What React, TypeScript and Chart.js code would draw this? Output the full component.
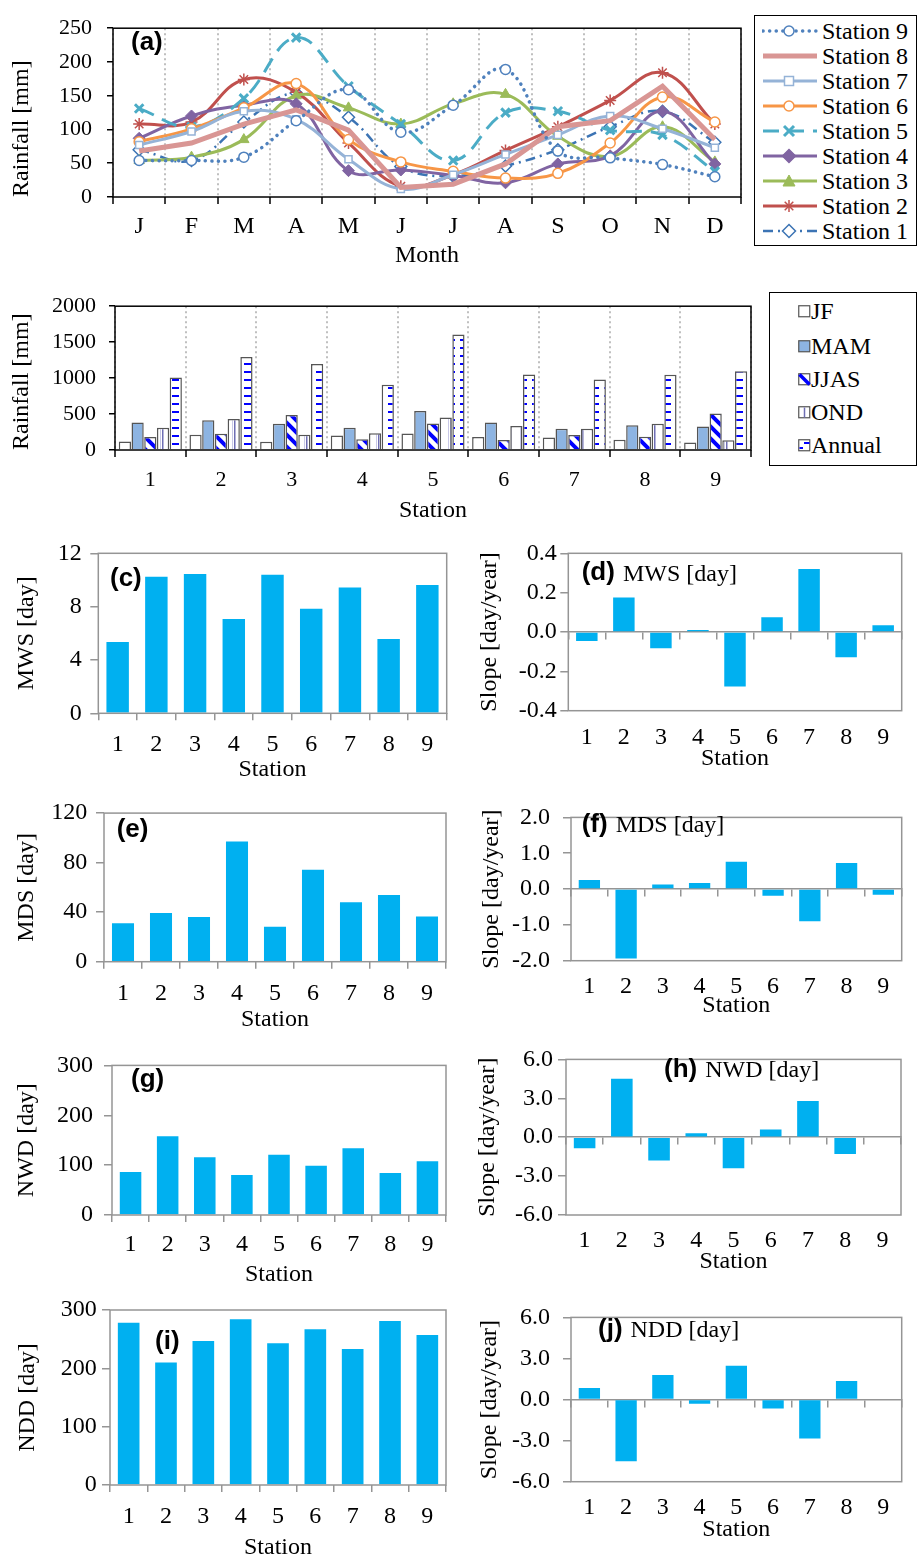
import React, { useEffect, useRef } from 'react';
import { Chart, registerables } from 'chart.js';

Chart.register(...registerables);

const SERIF = '"Liberation Serif", "Times New Roman", Times, serif';
const SANS = '"Liberation Sans", Arial, Helvetica, sans-serif';
Chart.defaults.font.family = SERIF;
Chart.defaults.color = '#000';

// ---------------- data ----------------
const months = ['J', 'F', 'M', 'A', 'M', 'J', 'J', 'A', 'S', 'O', 'N', 'D'];
const rainStation9 = [54, 54, 59, 113, 159, 96, 136, 189, 68, 58, 48, 30];
const rainStation8 = [68, 80, 108, 129, 99, 14, 19, 49, 104, 113, 164, 85];
const rainStation7 = [77, 97, 127, 115, 56, 12, 33, 63, 92, 120, 101, 73];
const rainStation6 = [82, 101, 132, 168, 85, 52, 38, 28, 35, 80, 148, 111];
const rainStation5 = [131, 104, 146, 236, 164, 108, 54, 125, 127, 99, 92, 38];
const rainStation4 = [87, 120, 136, 138, 39, 40, 32, 21, 49, 61, 127, 49];
const rainStation3 = [54, 59, 85, 150, 132, 108, 138, 152, 90, 60, 104, 52];
const rainStation2 = [108, 111, 174, 155, 80, 16, 33, 69, 104, 143, 184, 108];
const rainStation1 = [70, 54, 111, 154, 118, 45, 31, 46, 70, 104, 127, 81];
const rainTicks = [0, 50, 100, 150, 200, 250];

const stationLabels = ['1', '2', '3', '4', '5', '6', '7', '8', '9'];
const seasonNames = ['JF', 'MAM', 'JJAS', 'OND', 'Annual'];
const rainJF = [119, 212, 114, 203, 229, 182, 174, 144, 106];
const rainMAM = [381, 415, 364, 309, 542, 381, 297, 343, 326];
const rainJJAS = [182, 225, 487, 148, 369, 140, 208, 186, 508];
const rainOND = [309, 432, 212, 233, 453, 335, 297, 364, 136];
const rainAnnual = [1008, 1292, 1195, 907, 1606, 1051, 979, 1047, 1097];

const mws = [5.35, 10.25, 10.45, 7.08, 10.4, 7.85, 9.43, 5.58, 9.63];
const mwsSlope = [-0.046, 0.175, -0.082, 0.01, -0.277, 0.075, 0.32, -0.128, 0.034];
const mds = [31, 39.4, 36.1, 97.1, 28.2, 74.2, 48, 53.9, 36.4];
const mdsSlope = [0.25, -1.94, 0.13, 0.17, 0.76, -0.19, -0.9, 0.73, -0.16];
const nwd = [86, 158, 116, 80, 121, 99, 134, 84, 108];
const nwdSlope = [-0.85, 4.5, -1.8, 0.3, -2.4, 0.6, 2.8, -1.3, 0.05];
const ndd = [278, 210, 247, 284, 243, 267, 233, 281, 257];
const nddSlope = [0.85, -4.5, 1.8, -0.3, 2.47, -0.65, -2.84, 1.36, -0.05];

// ---------------- styles ----------------
const GRAY = '#959595';
const BAR_BLUE = '#00B0F0';
const LH = 24 * 1.2;

const lineSeries = [
  { name: 'Station 9', data: rainStation9, color: '#4F81BD', width: 3.5, dash: [0.1, 6.5], cap: 'round', point: 'circle', radius: 5, fill: '#FFFFFF', pbw: 1.5, tension: 0.4 },
  { name: 'Station 8', data: rainStation8, color: '#D99694', width: 5, dash: [], cap: 'butt', point: 'none', radius: 0, fill: '#D99694', pbw: 0, tension: 0 },
  { name: 'Station 7', data: rainStation7, color: '#95B3D7', width: 3, dash: [], cap: 'butt', point: 'rect', radius: 5, fill: '#FFFFFF', pbw: 1.5, tension: 0.4 },
  { name: 'Station 6', data: rainStation6, color: '#F79646', width: 3, dash: [], cap: 'butt', point: 'circle', radius: 5, fill: '#FFFFFF', pbw: 1.5, tension: 0.4 },
  { name: 'Station 5', data: rainStation5, color: '#4BACC6', width: 3, dash: [16, 9], cap: 'butt', point: 'crossRot', radius: 6, fill: '#4BACC6', pbw: 3, tension: 0.4 },
  { name: 'Station 4', data: rainStation4, color: '#8064A2', width: 3, dash: [], cap: 'butt', point: 'rectRot', radius: 6, fill: '#8064A2', pbw: 1, tension: 0.4 },
  { name: 'Station 3', data: rainStation3, color: '#9BBB59', width: 3, dash: [], cap: 'butt', point: 'triangle', radius: 6, fill: '#9BBB59', pbw: 1, tension: 0.4 },
  { name: 'Station 2', data: rainStation2, color: '#C0504D', width: 3, dash: [], cap: 'butt', point: 'star', radius: 6, fill: '#C0504D', pbw: 1.5, tension: 0.4 },
  { name: 'Station 1', data: rainStation1, color: '#3C74B4', width: 2.5, dash: [10, 5, 2, 5], cap: 'butt', point: 'rectRot', radius: 6, fill: '#FFFFFF', pbw: 1.5, tension: 0.4 },
];

// ---------------- plugins ----------------
const framePlugin = (color: string, width: number) => ({
  id: 'frame',
  afterDraw(chart: any) {
    const { ctx, chartArea: a } = chart;
    ctx.save();
    ctx.strokeStyle = color;
    ctx.lineWidth = width;
    ctx.strokeRect(a.left, a.top, a.right - a.left, a.bottom - a.top);
    ctx.restore();
  },
});

const tagPlugin = (tag: string, text: string, x: number, y: number) => ({
  id: 'tag',
  afterDraw(chart: any) {
    const ctx = chart.ctx;
    ctx.save();
    ctx.fillStyle = '#000';
    ctx.textBaseline = 'middle';
    ctx.textAlign = 'left';
    ctx.font = `bold 26px ${SANS}`;
    ctx.fillText(tag, x, y);
    if (text) {
      const w = ctx.measureText(tag).width;
      ctx.font = `24px ${SERIF}`;
      ctx.fillText(text, x + w + 8, y + 1);
    }
    ctx.restore();
  },
});

// ---------------- patterns ----------------
function makePattern(kind: string): any {
  const c = document.createElement('canvas');
  const ctx = c.getContext('2d') as CanvasRenderingContext2D;
  if (kind === 'diag') {
    c.width = 12; c.height = 12;
    ctx.fillStyle = '#fff'; ctx.fillRect(0, 0, 12, 12);
    ctx.strokeStyle = '#0000FF'; ctx.lineWidth = 4;
    ctx.beginPath();
    ctx.moveTo(-3, -3); ctx.lineTo(15, 15);
    ctx.moveTo(-3, 9); ctx.lineTo(3, 15);
    ctx.moveTo(9, -3); ctx.lineTo(15, 3);
    ctx.stroke();
  } else if (kind === 'vert') {
    c.width = 12; c.height = 4;
    ctx.fillStyle = '#fff'; ctx.fillRect(0, 0, 12, 4);
    ctx.fillStyle = '#6E6EB4'; ctx.fillRect(6, 0, 1.5, 4);
    ctx.fillStyle = '#C8C8E6'; ctx.fillRect(4, 0, 1, 4);
  } else {
    c.width = 12; c.height = 8;
    ctx.fillStyle = '#fff'; ctx.fillRect(0, 0, 12, 8);
    ctx.fillStyle = '#0000FF'; ctx.fillRect(4, 3, 7, 2);
  }
  return ctx.createPattern(c, 'repeat');
}

// ---------------- configs ----------------
function lineConfig() {
  const W = 750, H = 275;
  const area = { left: 113, right: 746, top: 19, bottom: 197 };
  return {
    type: 'line',
    data: {
      labels: months,
      datasets: lineSeries.map((s) => ({
        label: s.name,
        data: s.data,
        borderColor: s.color,
        borderWidth: s.width,
        borderDash: s.dash,
        borderCapStyle: s.cap,
        tension: s.tension,
        fill: false,
        pointStyle: s.point === 'none' ? false : s.point,
        pointRadius: s.radius,
        pointBackgroundColor: s.fill,
        pointBorderColor: s.color,
        pointBorderWidth: s.pbw,
      })),
    },
    options: {
      responsive: false,
      animation: false,
      events: [],
      layout: { padding: { top: area.top, right: W - area.right, left: 0, bottom: 0 } },
      plugins: { legend: { display: false }, tooltip: { enabled: false } },
      scales: {
        x: {
          type: 'category',
          offset: true,
          grid: { display: true, offset: true, drawOnChartArea: true, drawTicks: true, tickLength: 7, color: '#BFBFBF', lineWidth: 2, tickColor: '#000', tickWidth: 1.5 },
          border: { display: false, dash: [2, 3] },
          ticks: { autoSkip: false, maxRotation: 0, font: { size: 24 }, color: '#000', padding: 227 - area.bottom - 7 - LH / 2 },
          title: { display: true, text: 'Month', font: { size: 24 }, color: '#000', padding: { top: 0, bottom: H - 256 - LH / 2 } },
          afterFit: (s: any) => { s.height = H - area.bottom; },
        },
        y: {
          min: rainTicks[0],
          max: rainTicks[rainTicks.length - 1],
          ticks: { stepSize: rainTicks[1] - rainTicks[0], font: { size: 22 }, color: '#000', padding: area.left - 6 - 92, callback: (v: any) => String(v) },
          grid: { display: true, drawOnChartArea: false, drawTicks: true, tickLength: 6, color: '#000', lineWidth: 1.5 },
          border: { display: false },
          title: { display: true, text: 'Rainfall [mm]', align: 'start', font: { size: 24 }, color: '#000', padding: { top: 22 - LH / 2, bottom: 0 } },
          afterFit: (s: any) => { s.width = area.left; },
        },
      },
    },
    plugins: [framePlugin('#000', 1.5), tagPlugin('(a)', '', 131, 43)],
  };
}

function seasonConfig() {
  const W = 760, H = 250, TOP = 280;
  const area = { left: 115, right: 751, top: 292.5, bottom: 450 };
  const fills = ['#FFFFFF', '#8DB4E2', makePattern('diag'), makePattern('vert'), makePattern('dash')];
  const values = [rainJF, rainMAM, rainJJAS, rainOND, rainAnnual];
  return {
    type: 'bar',
    data: {
      labels: stationLabels,
      datasets: seasonNames.map((n, i) => ({
        label: n,
        data: values[i],
        backgroundColor: fills[i],
        borderColor: '#555555',
        borderWidth: 1.5,
        borderSkipped: 'bottom',
        categoryPercentage: 0.9,
        barPercentage: 0.96,
      })),
    },
    options: {
      responsive: false,
      animation: false,
      events: [],
      layout: { padding: { top: area.top - TOP, right: W - area.right, left: 0, bottom: 0 } },
      plugins: { legend: { display: false }, tooltip: { enabled: false } },
      scales: {
        x: {
          type: 'category',
          offset: true,
          grid: { display: true, offset: true, drawOnChartArea: true, drawTicks: true, tickLength: 7, color: '#BFBFBF', lineWidth: 2, tickColor: '#000', tickWidth: 1.5 },
          border: { display: false, dash: [2, 3] },
          ticks: { autoSkip: false, maxRotation: 0, font: { size: 22 }, color: '#000', padding: 480 - area.bottom - 7 - 13.2 },
          title: { display: true, text: 'Station', font: { size: 24 }, color: '#000', padding: { top: 0, bottom: TOP + H - 511 - LH / 2 } },
          afterFit: (s: any) => { s.height = TOP + H - area.bottom; },
        },
        y: {
          min: 0,
          max: 2000,
          ticks: { stepSize: 500, font: { size: 22 }, color: '#000', padding: area.left - 6 - 96, callback: (v: any) => String(v) },
          grid: { display: true, drawOnChartArea: false, drawTicks: true, tickLength: 6, color: '#000', lineWidth: 1.5 },
          border: { display: false },
          title: { display: true, text: 'Rainfall [mm]', align: 'start', font: { size: 24 }, color: '#000', padding: { top: 22 - LH / 2, bottom: 0 } },
          afterFit: (s: any) => { s.width = area.left; },
        },
      },
    },
    plugins: [framePlugin('#000', 1.5), tagPlugin('(b)', '', 131, 315)],
  };
}

interface BarPanel {
  left: number; top: number; width: number; height: number;
  area: { left: number; right: number; top: number; bottom: number };
  yTickRight: number; yTitleX: number; xLabelY: number; xTitleY: number;
  values: number[]; min: number; max: number; step: number; decimals: number;
  yTitle: string; slope: boolean; tag: string; tagText: string; tagX: number; tagY: number;
}

function barPanelConfig(p: BarPanel) {
  const yTick = 8;
  const xTick = p.slope ? 0 : 7;
  const cTop = p.area.top - p.top;
  const cRight = p.left + p.width - p.area.right;
  const yWidth = p.area.left - p.left;
  const xHeight = p.top + p.height - p.area.bottom;
  const fmt = (v: any) => {
    let n = Number(v);
    if (Math.abs(n) < 1e-9) n = 0;
    return n.toFixed(p.decimals);
  };
  const scales: any = {
    x: {
      type: 'category',
      position: 'bottom',
      offset: true,
      grid: p.slope
        ? { display: false }
        : { display: true, offset: true, drawOnChartArea: false, drawTicks: true, tickLength: xTick, color: GRAY, lineWidth: 1.5 },
      border: { display: false },
      ticks: { autoSkip: false, maxRotation: 0, font: { size: 24 }, color: '#000', padding: p.xLabelY - p.area.bottom - xTick - LH / 2 },
      title: { display: true, text: 'Station', font: { size: 24 }, color: '#000', padding: { top: 0, bottom: Math.max(0, p.top + p.height - p.xTitleY - LH / 2) } },
      afterFit: (s: any) => { s.height = xHeight; },
    },
    y: {
      min: p.min,
      max: p.max,
      ticks: { stepSize: p.step, font: { size: 24 }, color: '#000', padding: p.area.left - yTick - p.yTickRight, callback: fmt },
      grid: { display: true, drawOnChartArea: false, drawTicks: true, tickLength: yTick, color: GRAY, lineWidth: 1.5 },
      border: { display: false },
      title: { display: true, text: p.yTitle, font: { size: 24 }, color: '#000', padding: { top: p.yTitleX - p.left - LH / 2, bottom: 0 } },
      afterFit: (s: any) => { s.width = yWidth; },
    },
  };
  if (p.slope) {
    scales.x2 = {
      type: 'category',
      position: { y: 0 },
      offset: true,
      grid: { display: true, offset: true, drawOnChartArea: false, drawTicks: true, tickLength: 7, color: GRAY, lineWidth: 1.5 },
      border: { display: true, color: GRAY, width: 1.5 },
      ticks: { display: false },
      title: { display: false },
      afterFit: (s: any) => { s.height = 0; },
    };
  }
  return {
    type: 'bar',
    data: {
      labels: stationLabels,
      datasets: [{
        data: p.values,
        xAxisID: 'x',
        yAxisID: 'y',
        backgroundColor: BAR_BLUE,
        borderWidth: 0,
        categoryPercentage: 1,
        barPercentage: 0.58,
      }],
    },
    options: {
      responsive: false,
      animation: false,
      events: [],
      layout: { padding: { top: cTop, right: cRight, left: 0, bottom: 0 } },
      plugins: { legend: { display: false }, tooltip: { enabled: false } },
      scales,
    },
    plugins: [framePlugin(GRAY, 1.5), tagPlugin(p.tag, p.tagText, p.tagX - p.left, p.tagY - p.top)],
  };
}

const panels: BarPanel[] = [
  { left: 0, top: 530, width: 460, height: 260, area: { left: 98.3, right: 446.7, top: 553.3, bottom: 713.3 }, yTickRight: 81.7, yTitleX: 26.7, xLabelY: 745, xTitleY: 769.3,
    values: mws, min: 0, max: 12, step: 4, decimals: 0, yTitle: 'MWS [day]', slope: false, tag: '(c)', tagText: '', tagX: 110, tagY: 579 },
  { left: 460, top: 530, width: 460, height: 260, area: { left: 568.3, right: 901.7, top: 553.3, bottom: 710.7 }, yTickRight: 556.7, yTitleX: 490, xLabelY: 730, xTitleY: 758.3,
    values: mwsSlope, min: -0.4, max: 0.4, step: 0.2, decimals: 1, yTitle: 'Slope [day/year]', slope: true, tag: '(d)', tagText: 'MWS [day]', tagX: 581.7, tagY: 573.3 },
  { left: 0, top: 790, width: 460, height: 250, area: { left: 104, right: 446, top: 804.3, bottom: 961.7 }, yTickRight: 87.3, yTitleX: 26.7, xLabelY: 994, xTitleY: 1019.3,
    values: mds, min: 0, max: 120, step: 40, decimals: 0, yTitle: 'MDS [day]', slope: false, tag: '(e)', tagText: '', tagX: 116.7, tagY: 830 },
  { left: 460, top: 790, width: 460, height: 250, area: { left: 571, right: 901.7, top: 805, bottom: 960.7 }, yTickRight: 550, yTitleX: 491.7, xLabelY: 978.3, xTitleY: 1006,
    values: mdsSlope, min: -2, max: 2, step: 1, decimals: 1, yTitle: 'Slope [day/year]', slope: true, tag: '(f)', tagText: 'MDS [day]', tagX: 581.7, tagY: 825 },
  { left: 0, top: 1040, width: 460, height: 250, area: { left: 112, right: 446, top: 1054, bottom: 1215 }, yTickRight: 93, yTitleX: 27, xLabelY: 1245, xTitleY: 1275,
    values: nwd, min: 0, max: 300, step: 100, decimals: 0, yTitle: 'NWD [day]', slope: false, tag: '(g)', tagText: '', tagX: 131, tagY: 1080 },
  { left: 460, top: 1040, width: 460, height: 250, area: { left: 566, right: 901, top: 1054, bottom: 1215 }, yTickRight: 553, yTitleX: 488, xLabelY: 1233, xTitleY: 1262,
    values: nwdSlope, min: -6, max: 6, step: 3, decimals: 1, yTitle: 'Slope [day/year]', slope: true, tag: '(h)', tagText: 'NWD [day]', tagX: 664, tagY: 1070 },
  { left: 0, top: 1290, width: 460, height: 273, area: { left: 110, right: 446, top: 1310, bottom: 1485 }, yTickRight: 96.7, yTitleX: 27.3, xLabelY: 1516.7, xTitleY: 1548,
    values: ndd, min: 0, max: 300, step: 100, decimals: 0, yTitle: 'NDD [day]', slope: false, tag: '(i)', tagText: '', tagX: 155, tagY: 1341.7 },
  { left: 460, top: 1290, width: 460, height: 273, area: { left: 571, right: 901.7, top: 1308.3, bottom: 1481.7 }, yTickRight: 550, yTitleX: 490, xLabelY: 1500, xTitleY: 1529.3,
    values: nddSlope, min: -6, max: 6, step: 3, decimals: 1, yTitle: 'Slope [day/year]', slope: true, tag: '(j)', tagText: 'NDD [day]', tagX: 598, tagY: 1330 },
];

// ---------------- components ----------------
function ChartBox({ left, top, width, height, make }: { left: number; top: number; width: number; height: number; make: () => any }) {
  const ref = useRef<HTMLCanvasElement>(null);
  useEffect(() => {
    const chart = new Chart(ref.current as HTMLCanvasElement, make());
    return () => chart.destroy();
  }, []);
  return <canvas ref={ref} width={width} height={height} style={{ position: 'absolute', left, top, width, height }} />;
}

function Marker({ point, color, fill }: { point: string; color: string; fill: string }) {
  const cx = 27, cy = 10;
  switch (point) {
    case 'circle':
      return <circle cx={cx} cy={cy} r={5} fill={fill} stroke={color} strokeWidth={1.5} />;
    case 'rect':
      return <rect x={cx - 4.5} y={cy - 4.5} width={9} height={9} fill={fill} stroke={color} strokeWidth={1.5} />;
    case 'crossRot':
      return <g stroke={color} strokeWidth={3}><line x1={cx - 5} y1={cy - 5} x2={cx + 5} y2={cy + 5} /><line x1={cx - 5} y1={cy + 5} x2={cx + 5} y2={cy - 5} /></g>;
    case 'rectRot':
      return <polygon points={`${cx},${cy - 6.5} ${cx + 6.5},${cy} ${cx},${cy + 6.5} ${cx - 6.5},${cy}`} fill={fill} stroke={color} strokeWidth={1.5} />;
    case 'triangle':
      return <polygon points={`${cx},${cy - 6} ${cx + 6},${cy + 5} ${cx - 6},${cy + 5}`} fill={fill} stroke={color} strokeWidth={1} />;
    case 'star':
      return <g stroke={color} strokeWidth={1.5}><line x1={cx} y1={cy - 6} x2={cx} y2={cy + 6} /><line x1={cx - 6} y1={cy} x2={cx + 6} y2={cy} /><line x1={cx - 4.3} y1={cy - 4.3} x2={cx + 4.3} y2={cy + 4.3} /><line x1={cx - 4.3} y1={cy + 4.3} x2={cx + 4.3} y2={cy - 4.3} /></g>;
    default:
      return null;
  }
}

function LegendA() {
  return (
    <div style={{ position: 'absolute', left: 754, top: 15, width: 163, height: 231, border: '1.5px solid #000', boxSizing: 'border-box', background: '#fff' }}>
      {lineSeries.map((s, i) => {
        const cy = 31.7 + i * 25 - 15 - 1.5;
        return (
          <div key={s.name} style={{ position: 'absolute', left: 0, top: cy - 13, height: 26, width: 160 }}>
            <svg width={56} height={20} style={{ position: 'absolute', left: 7, top: 3 }}>
              <line x1={1} y1={10} x2={55} y2={10} stroke={s.color} strokeWidth={s.width} strokeDasharray={s.dash.length ? s.dash.join(' ') : undefined} strokeLinecap={s.cap as any} />
              <Marker point={s.point} color={s.color} fill={s.fill} />
            </svg>
            <span style={{ position: 'absolute', left: 67, top: 0, lineHeight: '26px', fontFamily: SERIF, fontSize: 24, color: '#000', whiteSpace: 'nowrap' }}>{s.name}</span>
          </div>
        );
      })}
    </div>
  );
}

function SeasonSwatch({ kind }: { kind: number }) {
  const st = '#555555';
  return (
    <svg width={13} height={13} style={{ position: 'absolute', left: 0, top: 7 }}>
      <rect x={0.75} y={0.75} width={11} height={11} fill={kind === 1 ? '#8DB4E2' : '#fff'} stroke={st} strokeWidth={1.2} />
      {kind === 2 && <line x1={1.5} y1={1.5} x2={11.5} y2={11.5} stroke="#0000FF" strokeWidth={3.5} />}
      {kind === 3 && <line x1={6.5} y1={1.5} x2={6.5} y2={11.5} stroke="#6E6EB4" strokeWidth={1.5} />}
      {kind === 4 && <g stroke="#0000FF" strokeWidth={2}><line x1={6} y1={4} x2={11.5} y2={4} /><line x1={1.5} y1={9} x2={5} y2={9} /></g>}
    </svg>
  );
}

function LegendB() {
  const centers = [311, 346, 379, 412, 445];
  return (
    <div style={{ position: 'absolute', left: 769, top: 292, width: 148, height: 174, border: '1.5px solid #000', boxSizing: 'border-box', background: '#fff' }}>
      {seasonNames.map((n, i) => (
        <div key={n} style={{ position: 'absolute', left: 28, top: centers[i] - 292 - 1.5 - 13, height: 26, width: 115 }}>
          <SeasonSwatch kind={i} />
          <span style={{ position: 'absolute', left: 13, top: 0, lineHeight: '26px', fontFamily: SERIF, fontSize: 24, color: '#000', whiteSpace: 'nowrap' }}>{n}</span>
        </div>
      ))}
    </div>
  );
}

export default function App() {
  return (
    <div style={{ position: 'absolute', left: 0, top: 0, width: 920, height: 1560, background: '#fff', overflow: 'hidden' }}>
      <ChartBox left={0} top={0} width={750} height={275} make={lineConfig} />
      <LegendA />
      <ChartBox left={0} top={280} width={760} height={250} make={seasonConfig} />
      <LegendB />
      {panels.map((p) => (
        <ChartBox key={p.tag} left={p.left} top={p.top} width={p.width} height={p.height} make={() => barPanelConfig(p)} />
      ))}
    </div>
  );
}
